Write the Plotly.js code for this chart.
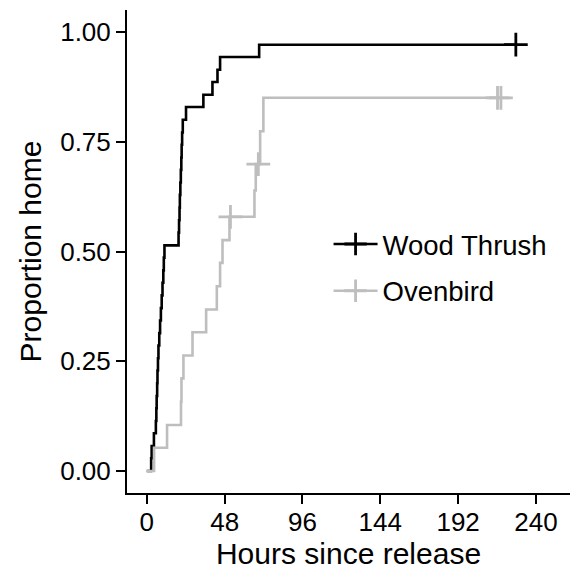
<!DOCTYPE html>
<html>
<head>
<meta charset="utf-8">
<script src="https://cdn.plot.ly/plotly-3.0.1.min.js"></script>
<style>html,body{margin:0;padding:0;background:#fff;}#chart{width:573px;height:570px;}</style>
</head>
<body>
<div id="chart"></div>
<script>
// Wood Thrush: cumulative proportion home (step after each event)
var woodTime = [0, 2.7, 3.0, 4.4, 5.6, 5.9, 6.1, 6.4, 6.6, 6.9, 7.2, 7.7, 8.2, 8.7, 9.2, 9.7, 10.2, 10.5, 10.9,
                19.6, 19.9, 20.2, 20.4, 20.7, 21.0, 21.3, 21.5, 21.8, 22.2, 24.2, 34.9, 40.5, 43.6, 45.2, 69.3, 227.6];
var woodProp = [0, 0.029, 0.057, 0.086, 0.114, 0.143, 0.171, 0.200, 0.229, 0.257, 0.286, 0.314, 0.343, 0.371, 0.400,
                0.429, 0.457, 0.486, 0.514, 0.543, 0.571, 0.600, 0.629, 0.657, 0.686, 0.714, 0.743, 0.771, 0.800,
                0.829, 0.857, 0.886, 0.914, 0.943, 0.971, 0.971];
var woodCensorTime = [227.6];
var woodCensorProp = [0.971];

// Ovenbird
var ovenTime = [0, 4.5, 12.5, 21.1, 21.4, 22.6, 28.2, 36.6, 43.2, 45.2, 46.7, 51.0, 66.4, 67.2, 69.9, 71.9, 218.4];
var ovenProp = [0, 0.053, 0.105, 0.158, 0.211, 0.263, 0.316, 0.368, 0.421, 0.474, 0.526, 0.579, 0.639, 0.699,
                0.774, 0.850, 0.850];
var ovenCensorTime = [51.6, 68.8, 216.3, 218.4];
var ovenCensorProp = [0.579, 0.699, 0.850, 0.850];

var xTicks = [0, 48, 96, 144, 192, 240];
var yTicks = [0, 0.25, 0.5, 0.75, 1];
var yTickText = ['0.00', '0.25', '0.50', '0.75', '1.00'];
var seriesNames = ['Wood Thrush', 'Ovenbird'];

var cBlack = '#000000';
var cGray = '#bebebe';
var FONT = 'Liberation Sans, Arial, Helvetica, sans-serif';

function crossMarker(color) {
  return {symbol: 'cross-thin', size: 17, color: color, line: {width: 2.8, color: color}};
}

var traces = [
  {x: woodTime, y: woodProp, type: 'scatter', mode: 'lines', line: {shape: 'hv', color: cBlack, width: 2.6}, showlegend: false, hoverinfo: 'skip'},
  {x: woodCensorTime, y: woodCensorProp, type: 'scatter', mode: 'markers', marker: crossMarker(cBlack), showlegend: false, hoverinfo: 'skip'},
  {x: ovenTime, y: ovenProp, type: 'scatter', mode: 'lines', line: {shape: 'hv', color: cGray, width: 2.6}, showlegend: false, hoverinfo: 'skip'},
  {x: ovenCensorTime, y: ovenCensorProp, type: 'scatter', mode: 'markers', marker: crossMarker(cGray), showlegend: false, hoverinfo: 'skip'},
  {x: [null], y: [null], type: 'scatter', mode: 'lines+markers', name: seriesNames[0], legendgroup: 'a', line: {color: cBlack, width: 2.6}, marker: crossMarker(cBlack)},
  {x: [null], y: [null], type: 'scatter', mode: 'lines+markers', name: seriesNames[1], legendgroup: 'b', line: {color: cGray, width: 2.6}, marker: crossMarker(cGray)}
];

var layout = {
  width: 573, height: 570,
  margin: {l: 127, r: 3, t: 10, b: 77},
  paper_bgcolor: '#ffffff', plot_bgcolor: '#ffffff',
  font: {family: FONT, color: '#000000'},
  showlegend: true,
  legend: {x: 0.455, y: 0.566, xanchor: 'left', yanchor: 'top', traceorder: 'grouped', tracegroupgap: 8,
           font: {size: 27.5, family: FONT, color: '#000'}, bgcolor: 'rgba(0,0,0,0)', itemwidth: 44},
  xaxis: {
    range: [-12.2, 261], tickvals: xTicks, ticktext: xTicks.map(String),
    ticks: 'outside', ticklen: 9, tickwidth: 2, tickcolor: '#000', ticklabelstandoff: -4,
    showline: true, linewidth: 2, linecolor: '#000', showgrid: false, zeroline: false,
    tickfont: {size: 26, family: FONT, color: '#000'},
    title: {text: 'Hours since release', font: {size: 30, family: FONT, color: '#000'}, standoff: 9}
  },
  yaxis: {
    range: [-0.05, 1.05], tickvals: yTicks, ticktext: yTickText,
    ticks: 'outside', ticklen: 9, tickwidth: 2, tickcolor: '#000',
    showline: true, linewidth: 2, linecolor: '#000', showgrid: false, zeroline: false,
    tickfont: {size: 26, family: FONT, color: '#000'},
    title: {text: 'Proportion home', font: {size: 30, family: FONT, color: '#000'}, standoff: 10}
  }
};

Plotly.newPlot('chart', traces, layout, {staticPlot: true, displayModeBar: false});
</script>
</body>
</html>
